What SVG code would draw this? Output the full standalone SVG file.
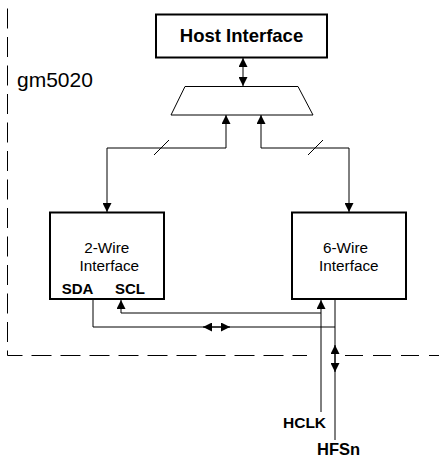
<svg xmlns="http://www.w3.org/2000/svg" width="439" height="458" viewBox="0 0 439 458">
<style>
.box{fill:#fff;stroke:#000;stroke-width:2}
.ln{fill:none;stroke:#000;stroke-width:1}
.dash{fill:none;stroke:#000;stroke-width:1}
.t{font-family:"Liberation Sans",Arial,sans-serif;fill:#000}
.b{font-weight:bold}
</style>
<defs>
<marker id="ah" viewBox="0 0 10 10" refX="10" refY="5" markerWidth="9" markerHeight="9" markerUnits="userSpaceOnUse" orient="auto-start-reverse">
<path d="M0,0 L10,5 L0,10 Z" fill="#000"/>
</marker>
</defs>
<rect width="439" height="458" fill="#fff"/>
<g id="boundary">
<path class="dash" d="M7.5,8.5 V355.5" stroke-dasharray="20 8.5"/>
<path class="dash" d="M7.5,355.5 H307" stroke-dasharray="20 9" stroke-dashoffset="5"/>
<path class="dash" d="M345,355.5 H439" stroke-dasharray="18 10"/>
<text class="t" x="17" y="87" font-size="21">gm5020</text>
</g>
<g id="connectors">
<path class="ln" d="M243,58 V86" marker-start="url(#ah)" marker-end="url(#ah)"/>
<path class="ln" d="M107,212 V148 H226 V115" marker-start="url(#ah)" marker-end="url(#ah)"/>
<path class="ln" d="M261,115 V148 H349 V212" marker-start="url(#ah)" marker-end="url(#ah)"/>
<path class="ln" d="M154,155 L169,140"/>
<path class="ln" d="M308,155 L323,140"/>
<path class="ln" d="M321,412 V300" marker-end="url(#ah)"/>
<path class="ln" d="M321,313 H121 V300" marker-end="url(#ah)"/>
<path class="ln" d="M93,300 V327 H335"/>
<path class="ln" d="M335,300 V440"/>
<path class="ln" d="M203,327 H230" marker-start="url(#ah)" marker-end="url(#ah)"/>
<path class="ln" d="M335,345 V372" marker-start="url(#ah)" marker-end="url(#ah)"/>
</g>
<g id="host">
<rect class="box" x="156" y="14.5" width="171" height="43"/>
<text class="t b" x="241.5" y="42" font-size="18.5" text-anchor="middle">Host Interface</text>
</g>
<g id="mux">
<path d="M185,86.5 H298 L313,115 H171 Z" fill="#fff" stroke="#000" stroke-width="1"/>
</g>
<g id="twowire">
<rect class="box" x="50" y="212.5" width="114" height="86.5"/>
<text class="t" x="106.8" y="252.7" font-size="15.3" text-anchor="middle">2-Wire</text>
<text class="t" x="109.3" y="271" font-size="15.3" text-anchor="middle">Interface</text>
<text class="t b" x="61.7" y="294" font-size="15">SDA</text>
<text class="t b" x="115" y="294" font-size="15">SCL</text>
</g>
<g id="sixwire">
<rect class="box" x="292" y="212.5" width="114" height="86.5"/>
<text class="t" x="345.5" y="252.7" font-size="15.3" text-anchor="middle">6-Wire</text>
<text class="t" x="348.8" y="271" font-size="15.3" text-anchor="middle">Interface</text>
</g>
<g id="pins">
<text class="t b" x="283" y="427.5" font-size="15.5">HCLK</text>
<text class="t b" x="317" y="455" font-size="16.5">HFSn</text>
</g>
</svg>
